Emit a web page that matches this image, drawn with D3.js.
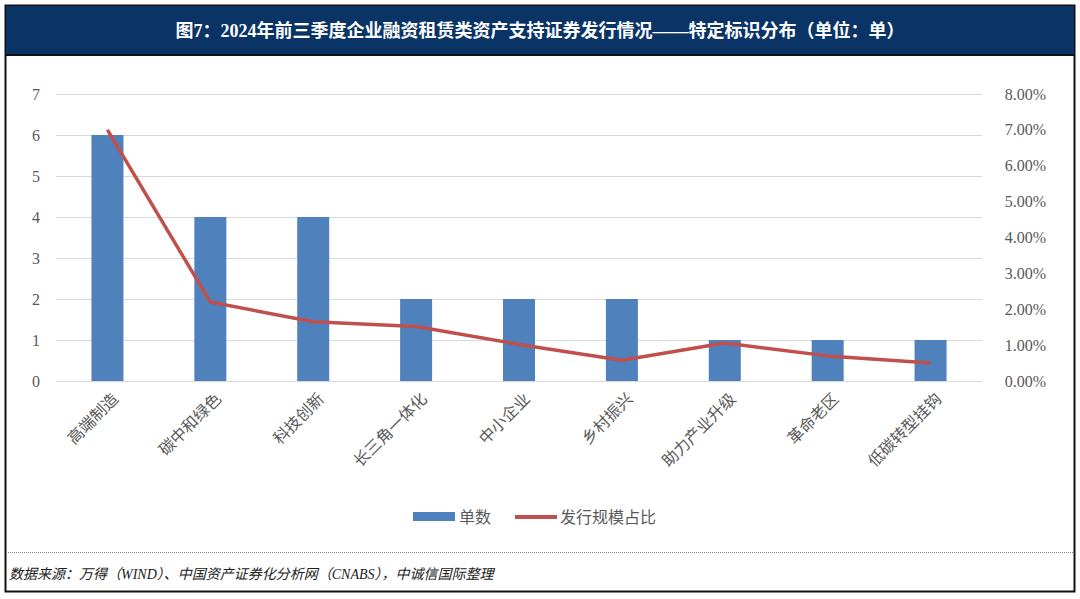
<!DOCTYPE html>
<html>
<head>
<meta charset="utf-8">
<style>
  body { margin: 0; background: #fff; }
  svg { display: block; }
</style>
</head>
<body>
<div id="chart"></div>
<script src="https://cdn.jsdelivr.net/npm/d3@7"></script>
<script>
var categories = ["高端制造", "碳中和绿色", "科技创新", "长三角一体化", "中小企业", "乡村振兴", "助力产业升级", "革命老区", "低碳转型挂钩"];
var counts = [6, 4, 4, 2, 2, 2, 1, 1, 1];
var shares = [0.0700, 0.0220, 0.0165, 0.0152, 0.0102, 0.0058, 0.0106, 0.0070, 0.0050];
var leftTicks = [0, 1, 2, 3, 4, 5, 6, 7];
var rightTicks = [0, 0.01, 0.02, 0.03, 0.04, 0.05, 0.06, 0.07, 0.08];

var width = 1080, height = 599;
var font = "'Liberation Serif', 'Noto Sans CJK SC', serif";
var cjk = "'Noto Sans CJK SC', sans-serif";

var svg = d3.select("#chart").append("svg")
  .attr("width", width).attr("height", height);

svg.append("rect").attr("width", width).attr("height", height).attr("fill", "#fff");

// frame + title bar
svg.append("rect").attr("x", 5.5).attr("y", 5.5).attr("width", 1069).attr("height", 586)
  .attr("fill", "none").attr("stroke", "#111").attr("stroke-width", 2);
svg.append("rect").attr("x", 6).attr("y", 6).attr("width", 1068).attr("height", 48)
  .attr("fill", "#0b3466");
svg.append("line").attr("x1", 6).attr("x2", 1074).attr("y1", 55).attr("y2", 55)
  .attr("stroke", "#111").attr("stroke-width", 2);
svg.append("text").attr("x", 540).attr("y", 37).attr("text-anchor", "middle")
  .attr("fill", "#fff").style("font", "bold 18px " + font)
  .text("图7：2024年前三季度企业融资租赁类资产支持证券发行情况——特定标识分布（单位：单）");

var x = d3.scaleBand().domain(categories).range([56, 982]);
var yL = d3.scaleLinear().domain([0, 7]).range([381, 94]);
var yR = d3.scaleLinear().domain([0, 0.08]).range([381, 94]);

var grid = svg.append("g");
grid.selectAll("line").data(leftTicks).join("line")
  .attr("x1", 56).attr("x2", 982)
  .attr("y1", d => yL(d) + 0.5).attr("y2", d => yL(d) + 0.5)
  .attr("stroke", "#d9d9d9");

svg.append("g").selectAll("text").data(leftTicks).join("text")
  .attr("x", 40).attr("y", d => yL(d)).attr("dy", "0.35em")
  .attr("text-anchor", "end").attr("fill", "#595959")
  .style("font", "16px " + font).text(d => d);

svg.append("g").selectAll("text").data(rightTicks).join("text")
  .attr("x", 1046).attr("y", d => yR(d)).attr("dy", "0.35em")
  .attr("text-anchor", "end").attr("fill", "#595959")
  .style("font", "16px " + font).text(d => (d * 100).toFixed(2) + "%");

svg.append("g").selectAll("rect").data(categories).join("rect")
  .attr("x", d => x(d) + x.bandwidth() / 2 - 16)
  .attr("width", 32)
  .attr("y", (d, i) => yL(counts[i]))
  .attr("height", (d, i) => yL(0) - yL(counts[i]))
  .attr("fill", "#4f81bd");

var line = d3.line()
  .x((d, i) => x(categories[i]) + x.bandwidth() / 2)
  .y(d => yR(d));
svg.append("path").datum(shares).attr("d", line)
  .attr("fill", "none").attr("stroke", "#c0504d").attr("stroke-width", 3.5)
  .attr("stroke-linejoin", "round");

svg.append("g").selectAll("text").data(categories).join("text")
  .attr("transform", d => "translate(" + (x(d) + x.bandwidth() / 2 + 8) + ",396) rotate(-45)")
  .attr("text-anchor", "end").attr("dy", "0.35em").attr("fill", "#595959")
  .style("font", "16px " + cjk).text(d => d);

// legend
var lg = svg.append("g").style("font", "16px " + cjk).attr("fill", "#595959");
lg.append("rect").attr("x", 413).attr("y", 512).attr("width", 42).attr("height", 9).attr("fill", "#4f81bd");
lg.append("text").attr("x", 459).attr("y", 517).attr("dy", "0.35em").text("单数");
lg.append("line").attr("x1", 515).attr("x2", 557).attr("y1", 517).attr("y2", 517)
  .attr("stroke", "#c0504d").attr("stroke-width", 4);
lg.append("text").attr("x", 560).attr("y", 517).attr("dy", "0.35em").text("发行规模占比");

svg.append("line").attr("x1", 6).attr("x2", 1074).attr("y1", 552.5).attr("y2", 552.5)
  .attr("stroke", "#888").attr("stroke-dasharray", "1,1");
svg.append("text").attr("x", 9).attr("y", 574).attr("dy", "0.35em").attr("fill", "#222")
  .style("font", "italic 14px " + font)
  .text("数据来源：万得（WIND）、中国资产证券化分析网（CNABS），中诚信国际整理");
</script>
</body>
</html>
